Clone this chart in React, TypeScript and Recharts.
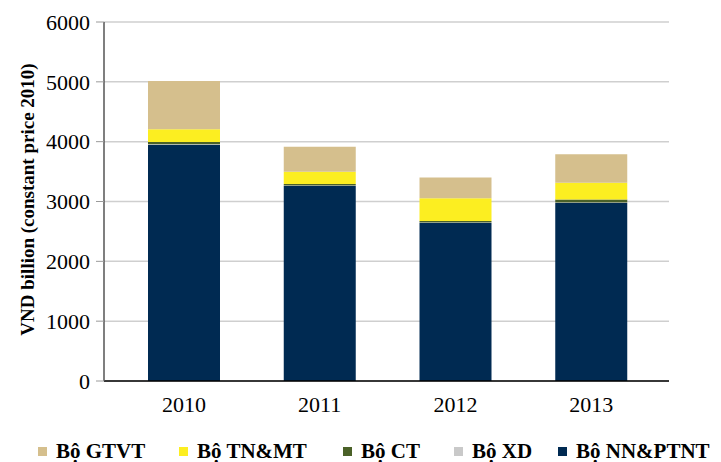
import { BarChart, Bar, XAxis, YAxis, CartesianGrid } from 'recharts';

const years = ['2010', '2011', '2012', '2013'];
const nnPtnt = [3945, 3260, 2640, 2975];
const boXd = [10, 8, 8, 10];
const boCt = [40, 25, 25, 50];
const tnMt = [212, 205, 380, 278];
const gtvt = [807, 418, 350, 475];
const yTicks = [0, 1000, 2000, 3000, 4000, 5000, 6000];

const series = [
  { key: 'nn', name: 'Bộ NN&PTNT', color: '#002a52' },
  { key: 'xd', name: 'Bộ XD', color: '#c9c9c9' },
  { key: 'ct', name: 'Bộ CT', color: '#4a6128' },
  { key: 'tn', name: 'Bộ TN&MT', color: '#fcee21' },
  { key: 'gt', name: 'Bộ GTVT', color: '#d5bf8d' },
];
// legend reads left to right top-of-stack first
const legendOrder = ['gt', 'tn', 'ct', 'xd', 'nn'];
const legendX = [38, 179, 343, 454, 558];

const rows = years.map((y, i) => ({
  year: y, nn: nnPtnt[i], xd: boXd[i], ct: boCt[i], tn: tnMt[i], gt: gtvt[i],
}));

const FONT = '"Liberation Serif", "Times New Roman", serif';

function YLabel(props: any) {
  const vb = props.viewBox || { y: 22, height: 359 };
  const cy = vb.y + vb.height / 2 - 2;
  return (
    <text x={27} y={cy} transform={`rotate(-90 27 ${cy})`} textAnchor="middle"
      dominantBaseline="central" fontFamily={FONT} fontWeight="bold" fontSize={19} fill="#000">
      VND billion (constant price 2010)
    </text>
  );
}

export default function App() {
  return (
    <div style={{ position: 'relative', width: 721, height: 462, background: '#fff', fontFamily: FONT }}>
      <style>{'body{margin:0}'}</style>
      <BarChart width={721} height={462} data={rows}
        margin={{ top: 22, right: 52, left: 0, bottom: 0 }} barSize={72}>
        <CartesianGrid vertical={false} stroke="#cfcfcf" strokeWidth={1.5} />
        <XAxis dataKey="year" height={81} padding={{ left: 12, right: 10 }}
          tickLine={false} axisLine={{ stroke: '#000', strokeWidth: 1.5 }}
          tickMargin={9} tick={{ fontSize: 22, fill: '#000', fontFamily: FONT }} />
        <YAxis width={104} domain={[0, 6000]} ticks={yTicks} interval={0}
          tickSize={8} tickMargin={6} tickLine={{ stroke: '#9a9a9a' }}
          axisLine={{ stroke: '#555', strokeWidth: 1.5 }}
          tick={{ fontSize: 22, fill: '#000', fontFamily: FONT }}
          label={<YLabel />} />
        {series.map(s => (
          <Bar key={s.key} dataKey={s.key} name={s.name} stackId="a" fill={s.color}
            isAnimationActive={false} />
        ))}
      </BarChart>
      {legendOrder.map((k, i) => {
        const s = series.find(x => x.key === k)!;
        return (
          <div key={k} style={{ position: 'absolute', left: legendX[i], top: 439, display: 'flex',
            alignItems: 'center', fontSize: 21, fontWeight: 'bold', color: '#000', lineHeight: '24px' }}>
            <span style={{ display: 'inline-block', width: 9, height: 9, background: s.color, marginRight: 9 }} />
            {s.name}
          </div>
        );
      })}
    </div>
  );
}
